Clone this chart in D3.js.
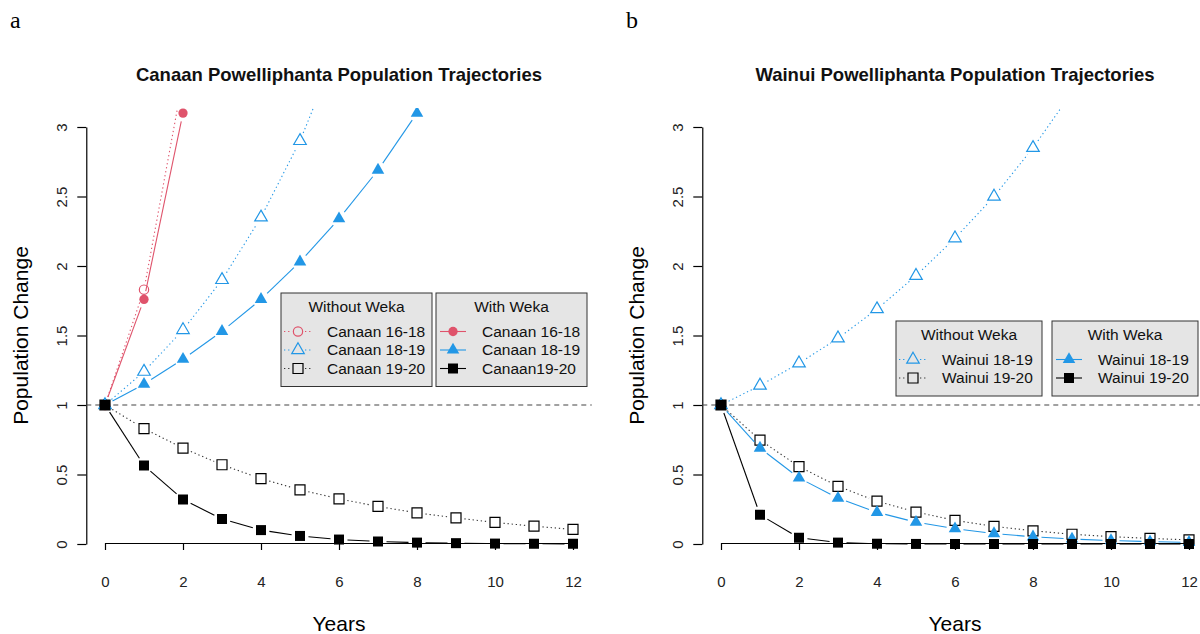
<!DOCTYPE html>
<html>
<head>
<meta charset="utf-8">
<script src="https://cdn.jsdelivr.net/npm/d3@7"></script>
<style>
  body { margin: 0; background: #fff; }
  svg { font-family: "Liberation Sans", Arial, sans-serif; }
</style>
</head>
<body>
<svg id="chart" width="1200" height="634"></svg>
<script>
// x values (years) and axis ticks
var years = [0, 1, 2, 3, 4, 5, 6, 7, 8, 9, 10, 11, 12];
var xTicks = [0, 2, 4, 6, 8, 10, 12];
var yTicks = [0, 0.5, 1, 1.5, 2, 2.5, 3];

// Canaan trajectories (values above 3 run off the top of the plot)
var canaan1618No   = [1, 1.83, 3.35];
var canaan1819No   = [1, 1.24, 1.54, 1.90, 2.35, 2.90, 3.59];
var canaan1920No   = [1, 0.83, 0.69, 0.57, 0.47, 0.39, 0.325, 0.27, 0.224, 0.188, 0.155, 0.128, 0.105];
var canaan1618Weka = [1, 1.76, 3.10, 5.45];
var canaan1819Weka = [1, 1.15, 1.33, 1.53, 1.76, 2.03, 2.34, 2.69, 3.10, 3.57];
var canaan1920Weka = [1, 0.565, 0.32, 0.18, 0.10, 0.058, 0.032, 0.018, 0.010, 0.006, 0.003, 0.002, 0.001];

// Wainui trajectories
var wainui1819No   = [1, 1.14, 1.30, 1.48, 1.69, 1.93, 2.20, 2.50, 2.85, 3.25];
var wainui1920No   = [1, 0.748, 0.557, 0.415, 0.308, 0.23, 0.17, 0.127, 0.095, 0.07, 0.053, 0.04, 0.03];
var wainui1819Weka = [1, 0.69, 0.475, 0.33, 0.228, 0.157, 0.11, 0.075, 0.052, 0.036, 0.025, 0.017, 0.012];
var wainui1920Weka = [1, 0.21, 0.045, 0.01, 0.002, 0.0005, 0, 0, 0, 0, 0, 0, 0];

// colours
var red = "#DF536B", blue = "#2297E6", black = "#000000";

var svg = d3.select("#chart");

// R style "b" lines: segments stop short of the points
var gap = 8.5;

function drawSeries(g, x, y, s) {
  var pts = s.vals.map(function(v, i) { return [x(years[i]), y(v)]; });
  var segs = [];
  for (var i = 1; i < pts.length; i++) {
    var dx = pts[i][0] - pts[i-1][0], dy = pts[i][1] - pts[i-1][1];
    var len = Math.sqrt(dx*dx + dy*dy);
    if (len <= 2 * gap) continue;
    var ux = dx / len, uy = dy / len;
    segs.push([pts[i-1][0] + ux*gap, pts[i-1][1] + uy*gap, pts[i][0] - ux*gap, pts[i][1] - uy*gap]);
  }
  g.selectAll(null)
      .data(segs)
    .enter().append("line")
      .attr("x1", function(d) { return d[0]; })
      .attr("y1", function(d) { return d[1]; })
      .attr("x2", function(d) { return d[2]; })
      .attr("y2", function(d) { return d[3]; })
      .attr("stroke", s.filled ? s.color : (s.color == black ? "#333" : s.color))
      .attr("stroke-width", 1.1)
      .attr("stroke-dasharray", s.filled ? null : "1.3,2.8");

  g.selectAll(null)
      .data(pts)
    .enter().append("path")
      .attr("transform", function(d) { return "translate(" + d[0] + "," + d[1] + ")"; })
      .attr("d", symbolPath(s.shape))
      .attr("fill", s.filled ? s.color : "none")
      .attr("stroke", s.color)
      .attr("stroke-width", s.filled ? 0 : 1.2);
}

function symbolPath(shape) {
  if (shape == "circle") return d3.symbol(d3.symbolCircle, 68)();
  if (shape == "triangle") return d3.symbol(d3.symbolTriangle, 68)();
  return d3.symbol(d3.symbolSquare, 100)();
}

function drawLegend(left, top, width, title, entries) {
  var h = 38.5 + (entries.length - 1) * 18.5 + 18;
  var lg = svg.append("g");
  lg.append("rect")
    .attr("x", left).attr("y", top)
    .attr("width", width).attr("height", h)
    .attr("fill", "#e5e5e5")
    .attr("stroke", "#333")
    .attr("stroke-width", 1);
  lg.append("text")
    .attr("x", left + width / 2).attr("y", top + 14)
    .attr("dy", "0.35em")
    .attr("text-anchor", "middle")
    .style("font-size", "15.5px")
    .attr("fill", "#111")
    .text(title);
  entries.forEach(function(e, i) {
    var cy = top + 38.5 + i * 18.5, mx = left + 17;
    var row = lg.append("g");
    if (e.filled) {
      row.append("line").attr("x1", left + 4).attr("x2", left + 30)
        .attr("y1", cy).attr("y2", cy)
        .attr("stroke", e.color).attr("stroke-width", 1.1);
    } else {
      [[left + 3, mx - 7], [mx + 7, left + 31]].forEach(function(p) {
        row.append("line").attr("x1", p[0]).attr("x2", p[1])
          .attr("y1", cy).attr("y2", cy)
          .attr("stroke", e.color == black ? "#333" : e.color)
          .attr("stroke-width", 1.1)
          .attr("stroke-dasharray", "1.3,2.8");
      });
    }
    row.append("path")
      .attr("transform", "translate(" + mx + "," + cy + ")")
      .attr("d", symbolPath(e.shape))
      .attr("fill", e.filled ? e.color : "none")
      .attr("stroke", e.color)
      .attr("stroke-width", e.filled ? 0 : 1.2);
    row.append("text")
      .attr("x", left + 46).attr("y", cy)
      .attr("dy", "0.35em")
      .style("font-size", "15.5px")
      .attr("fill", "#111")
      .text(e.label);
  });
}

function drawPanel(p) {
  var x = d3.scaleLinear().domain([0, 12]).range([p.x0, p.x0 + 468]);
  var y = d3.scaleLinear().domain([0, 3]).range([544, 127]);
  var left = x(-0.48), right = x(12.48);

  var clipId = "clip" + p.letter;
  svg.append("clipPath").attr("id", clipId)
    .append("rect")
      .attr("x", left).attr("y", 108)
      .attr("width", right - left).attr("height", 460);

  // panel letter
  svg.append("text")
    .attr("x", p.x0 - 95).attr("y", 28)
    .style("font-family", "'Liberation Serif', 'Times New Roman', serif")
    .style("font-size", "24px")
    .text(p.letter);

  // title
  svg.append("text")
    .attr("x", x(6)).attr("y", 80.5)
    .attr("text-anchor", "middle")
    .style("font-size", "18.5px")
    .style("font-weight", "bold")
    .attr("fill", "#111")
    .text(p.title);

  // x axis
  var xAxis = svg.append("g")
    .attr("transform", "translate(0," + (y(0) - 1) + ")")
    .call(d3.axisBottom(x).tickValues(xTicks).tickSize(7).tickSizeOuter(0).tickPadding(26));
  xAxis.selectAll("text").style("font-size", "15px").attr("fill", "#222");
  xAxis.selectAll("line, path").attr("stroke", "#000").attr("stroke-width", 1.2);

  // y axis
  var yAxis = svg.append("g")
    .attr("transform", "translate(" + left + ",0)")
    .call(d3.axisLeft(y).tickValues(yTicks).tickSize(9).tickSizeOuter(0).tickFormat(d3.format("")));
  yAxis.selectAll("text")
    .attr("x", 0).attr("y", 0).attr("dy", 0)
    .attr("text-anchor", "middle")
    .attr("transform", "translate(-19,0) rotate(-90)")
    .style("font-size", "15px").attr("fill", "#222");
  yAxis.selectAll("line, path").attr("stroke", "#000").attr("stroke-width", 1.2);

  // axis labels
  svg.append("text")
    .attr("x", x(6)).attr("y", 631)
    .attr("text-anchor", "middle")
    .style("font-size", "21px")
    .text("Years");
  svg.append("text")
    .attr("transform", "translate(" + (left - 58.5) + "," + y(1.5) + ") rotate(-90)")
    .attr("text-anchor", "middle")
    .style("font-size", "21px")
    .text("Population Change");

  // reference line at 1
  svg.append("line")
    .attr("x1", left).attr("x2", right)
    .attr("y1", y(1)).attr("y2", y(1))
    .attr("stroke", "#444").attr("stroke-width", 1.1)
    .attr("stroke-dasharray", "5,4");

  var plot = svg.append("g").attr("clip-path", "url(#" + clipId + ")");
  p.series.forEach(function(s) { drawSeries(plot, x, y, s); });

  drawLegend(p.legendX[0], p.legendY, p.legendW, "Without Weka", p.series.filter(function(s) { return !s.filled; }));
  drawLegend(p.legendX[1], p.legendY, p.legendW, "With Weka", p.series.filter(function(s) { return s.filled; }));
}

drawPanel({
  letter: "a", x0: 105,
  title: "Canaan Powelliphanta Population Trajectories",
  legendX: [281, 436], legendY: 293, legendW: 151,
  series: [
    {label: "Canaan 16-18", vals: canaan1618No, color: red, shape: "circle", filled: false},
    {label: "Canaan 18-19", vals: canaan1819No, color: blue, shape: "triangle", filled: false},
    {label: "Canaan 19-20", vals: canaan1920No, color: black, shape: "square", filled: false},
    {label: "Canaan 16-18", vals: canaan1618Weka, color: red, shape: "circle", filled: true},
    {label: "Canaan 18-19", vals: canaan1819Weka, color: blue, shape: "triangle", filled: true},
    {label: "Canaan19-20", vals: canaan1920Weka, color: black, shape: "square", filled: true}
  ]
});

drawPanel({
  letter: "b", x0: 721,
  title: "Wainui Powelliphanta Population Trajectories",
  legendX: [896, 1052], legendY: 321, legendW: 146,
  series: [
    {label: "Wainui 18-19", vals: wainui1819No, color: blue, shape: "triangle", filled: false},
    {label: "Wainui 19-20", vals: wainui1920No, color: black, shape: "square", filled: false},
    {label: "Wainui 18-19", vals: wainui1819Weka, color: blue, shape: "triangle", filled: true},
    {label: "Wainui 19-20", vals: wainui1920Weka, color: black, shape: "square", filled: true}
  ]
});
</script>
</body>
</html>
